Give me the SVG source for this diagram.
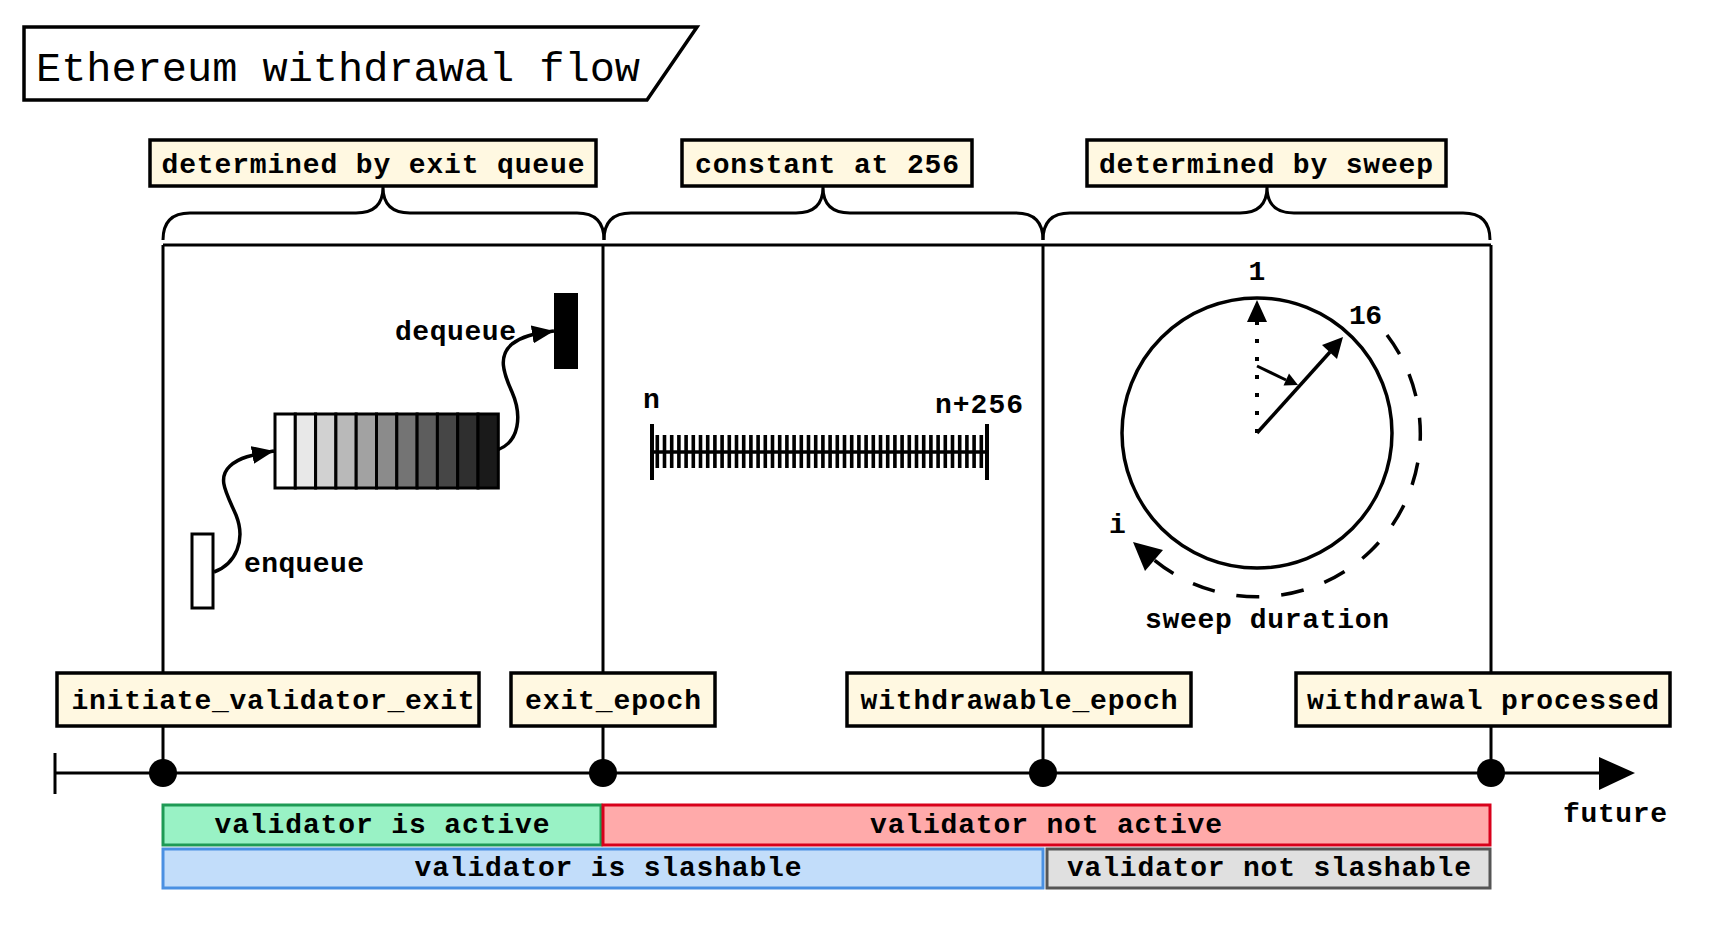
<svg xmlns="http://www.w3.org/2000/svg" width="1719" height="947" viewBox="0 0 1719 947">
<style>
.t{font-family:"Liberation Mono","DejaVu Sans Mono",monospace;font-weight:bold;font-size:28px;fill:#000}
.lab{fill:#FFF8E1;stroke:#000;stroke-width:3.5}
.ln{fill:none;stroke:#000;stroke-width:3}
.cur{fill:none;stroke:#000;stroke-width:3.5}
.cell{stroke:#000;stroke-width:3}
</style>
<defs>
<marker id="ah" viewBox="0 0 22 18" refX="22" refY="9" markerWidth="22" markerHeight="18" markerUnits="userSpaceOnUse" orient="auto">
<path d="M0 0 L22 9 L0 18 Z" fill="#000"/>
</marker>
</defs>
<rect width="1719" height="947" fill="#fff"/>

<g id="title">
<path d="M24 27 H697 L647 100 H24 Z" fill="#fff" stroke="#000" stroke-width="3.5"/>
<text x="36" y="81" style="font-family:'Liberation Mono','DejaVu Sans Mono',monospace;font-size:41px" textLength="604" lengthAdjust="spacingAndGlyphs">Ethereum withdrawal flow</text>
</g>

<g id="connectors">
<path class="ln" d="M163 245 H1491"/>
<path class="ln" d="M163 245 V773 M603 245 V773 M1043 245 V773 M1491 245 V773"/>
<path class="ln" d="M163 240 Q163 213 190 213 H356 Q383 213 383 187 Q383 213 410 213 H577 Q604 213 604 240"/>
<path class="ln" d="M604 240 Q604 213 631 213 H796 Q823 213 823 187 Q823 213 850 213 H1016 Q1043 213 1043 240"/>
<path class="ln" d="M1043 240 Q1043 213 1070 213 H1240 Q1267 213 1267 187 Q1267 213 1294 213 H1463 Q1490 213 1490 240"/>
<path class="ln" d="M55 773 H1602"/>
<path class="ln" d="M55 753 V794"/>
<path d="M1599 757 L1635 773 L1599 790 Z" fill="#000"/>
<path class="cur" d="M214 572 C236 564 246 540 236 515 C226 492 217 478 230 466 C240 457 252 455 274 451" marker-end="url(#ah)"/>
<path class="cur" d="M497 450 C520 442 522 415 512 392 C503 372 498 356 512 344 C524 335 535 334 554 331" marker-end="url(#ah)"/>
</g>

<g id="dots" fill="#000">
<circle cx="163" cy="773" r="14"/>
<circle cx="603" cy="773" r="14"/>
<circle cx="1043" cy="773" r="14"/>
<circle cx="1491" cy="773" r="14"/>
</g>

<g id="label-exit-queue">
<rect class="lab" x="150" y="140" width="446" height="46"/>
<text class="t" x="373" y="173" text-anchor="middle" textLength="423">determined by exit queue</text>
</g>
<g id="label-constant">
<rect class="lab" x="682" y="140" width="290" height="46"/>
<text class="t" x="827" y="173" text-anchor="middle" textLength="264">constant at 256</text>
</g>
<g id="label-sweep">
<rect class="lab" x="1087" y="140" width="359" height="46"/>
<text class="t" x="1266" y="173" text-anchor="middle" textLength="334">determined by sweep</text>
</g>

<g id="queue">
<rect x="192" y="534" width="21" height="74" fill="#fff" stroke="#000" stroke-width="3"/>
<text class="t" x="244" y="572" textLength="120">enqueue</text>
<rect class="cell" x="275" y="414" width="20.3" height="74" fill="#ffffff"/>
<rect class="cell" x="295.3" y="414" width="20.3" height="74" fill="#e8e8e8"/>
<rect class="cell" x="315.6" y="414" width="20.3" height="74" fill="#d1d1d1"/>
<rect class="cell" x="335.9" y="414" width="20.3" height="74" fill="#b9b9b9"/>
<rect class="cell" x="356.2" y="414" width="20.3" height="74" fill="#a2a2a2"/>
<rect class="cell" x="376.5" y="414" width="20.3" height="74" fill="#8b8b8b"/>
<rect class="cell" x="396.8" y="414" width="20.3" height="74" fill="#747474"/>
<rect class="cell" x="417.1" y="414" width="20.3" height="74" fill="#5d5d5d"/>
<rect class="cell" x="437.4" y="414" width="20.3" height="74" fill="#464646"/>
<rect class="cell" x="457.7" y="414" width="20.3" height="74" fill="#2f2f2f"/>
<rect class="cell" x="478" y="414" width="20.3" height="74" fill="#1a1a1a"/>
<rect x="554" y="293" width="24" height="76" fill="#000"/>
<text class="t" x="395" y="340" textLength="121">dequeue</text>
</g>

<g id="ruler">
<text class="t" x="643" y="408">n</text>
<text class="t" x="935" y="413" textLength="88">n+256</text>
<line x1="652" y1="452" x2="987" y2="452" stroke="#000" stroke-width="3.5"/>
<line x1="652" y1="424" x2="652" y2="480" stroke="#000" stroke-width="4"/>
<line x1="987" y1="424" x2="987" y2="480" stroke="#000" stroke-width="4"/>
<line x1="655.5" y1="451.5" x2="985" y2="451.5" stroke="#000" stroke-width="33" stroke-dasharray="3.6 3.6"/>
</g>

<g id="sweep">
<circle cx="1257" cy="433" r="135" fill="none" stroke="#000" stroke-width="3.5"/>
<line x1="1257" y1="433" x2="1257" y2="322" stroke="#000" stroke-width="4" stroke-dasharray="4 14"/>
<path d="M1257 300 L1267 322 L1247 322 Z" fill="#000"/>
<line x1="1257" y1="433" x2="1330" y2="352" stroke="#000" stroke-width="3.5"/>
<path d="M1343 337 L1337 359 L1322 345 Z" fill="#000"/>
<line x1="1257" y1="366" x2="1286" y2="380" stroke="#000" stroke-width="3"/>
<path d="M1298 385 L1283.5 385.5 L1289 373.5 Z" fill="#000"/>
<path d="M1387 335 A163 163 0 0 1 1153 559" fill="none" stroke="#000" stroke-width="3.5" stroke-dasharray="23 22"/>
<path d="M1133 542 L1163 550 L1145 571 Z" fill="#000"/>
<text class="t" x="1257" y="280" text-anchor="middle">1</text>
<text class="t" x="1349" y="324" textLength="33">16</text>
<text class="t" x="1109" y="533">i</text>
<text class="t" x="1145" y="628" textLength="244">sweep duration</text>
</g>

<g id="label-initiate">
<rect class="lab" x="57" y="673" width="422" height="53"/>
<text class="t" x="273" y="709" text-anchor="middle" textLength="403">initiate_validator_exit</text>
</g>
<g id="label-exit-epoch">
<rect class="lab" x="511" y="673" width="204" height="53"/>
<text class="t" x="613" y="709" text-anchor="middle" textLength="176">exit_epoch</text>
</g>
<g id="label-withdrawable">
<rect class="lab" x="847" y="673" width="344" height="53"/>
<text class="t" x="1019" y="709" text-anchor="middle" textLength="317">withdrawable_epoch</text>
</g>
<g id="label-processed">
<rect class="lab" x="1296" y="673" width="374" height="53"/>
<text class="t" x="1483" y="709" text-anchor="middle" textLength="352">withdrawal processed</text>
</g>

<g id="future">
<text class="t" x="1563" y="822" textLength="104">future</text>
</g>

<g id="status-active">
<rect x="163" y="805" width="438" height="40" fill="#99F2C5" stroke="#1E9A55" stroke-width="3"/>
<text class="t" x="382" y="833" text-anchor="middle" textLength="335">validator is active</text>
</g>
<g id="status-not-active">
<rect x="603" y="805" width="887" height="40" fill="#FFAAAA" stroke="#D8001B" stroke-width="3"/>
<text class="t" x="1046" y="833" text-anchor="middle" textLength="352">validator not active</text>
</g>
<g id="status-slashable">
<rect x="163" y="849" width="880" height="39" fill="#C2DDFA" stroke="#4A90E2" stroke-width="3"/>
<text class="t" x="608" y="876" text-anchor="middle" textLength="387">validator is slashable</text>
</g>
<g id="status-not-slashable">
<rect x="1047" y="849" width="443" height="39" fill="#E0E0E0" stroke="#555555" stroke-width="3"/>
<text class="t" x="1269" y="876" text-anchor="middle" textLength="404">validator not slashable</text>
</g>
</svg>
